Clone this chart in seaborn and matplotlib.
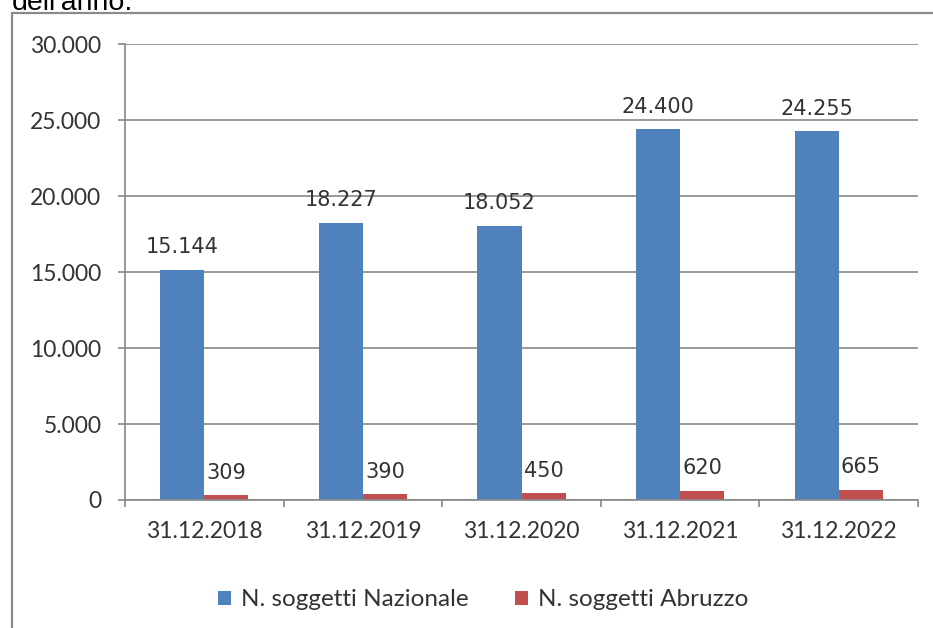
import matplotlib
matplotlib.use("Agg")
import matplotlib.pyplot as plt
from matplotlib.patches import Rectangle
from matplotlib.ticker import FuncFormatter, FixedLocator
import pandas as pd
import seaborn as sns

# data
categories = ["31.12.2018", "31.12.2019", "31.12.2020", "31.12.2021", "31.12.2022"]
nazionale = [15144, 18227, 18052, 24400, 24255]
abruzzo = [309, 390, 450, 620, 665]
series_names = ["N. soggetti Nazionale", "N. soggetti Abruzzo"]
y_ticks = [0, 5000, 10000, 15000, 20000, 25000, 30000]

BLUE = "#4F81BD"
RED = "#C0504D"
GRID = "#888888"
TEXT = "#333333"


def it_num(v, _pos=None):
    return f"{v:,.0f}".replace(",", ".")


df = pd.DataFrame({"data": categories, series_names[0]: nazionale, series_names[1]: abruzzo})
tidy = df.melt(id_vars="data", var_name="serie", value_name="valore")

sns.set_style("white")
plt.rcParams["font.family"] = ["Lato", "DejaVu Sans"]

fig = plt.figure(figsize=(9.33, 6.28), dpi=100)
ax = fig.add_axes([125 / 933, 1 - 500 / 628, (918 - 125) / 933, (500 - 44) / 628])

sns.barplot(data=tidy, x="data", y="valore", hue="serie", hue_order=series_names,
            palette={series_names[0]: BLUE, series_names[1]: RED}, saturation=1,
            width=0.555, errorbar=None, linewidth=0, ax=ax)

ax.set_xlim(-0.5, len(categories) - 0.5)
ax.set_ylim(0, 30000)
ax.set_xlabel("")
ax.set_ylabel("")

# grid + axes
ax.yaxis.set_major_locator(FixedLocator(y_ticks))
ax.yaxis.set_major_formatter(FuncFormatter(it_num))
ax.grid(axis="y", color=GRID, linewidth=1.2)
ax.set_axisbelow(True)
for side in ["top", "right"]:
    ax.spines[side].set_visible(False)
for side in ["left", "bottom"]:
    ax.spines[side].set_color(GRID)
    ax.spines[side].set_linewidth(1.2)

ax.tick_params(axis="y", length=5, width=1.2, color=GRID, pad=12,
               labelsize=16.5, labelcolor=TEXT, left=True)
ax.set_xticks(range(len(categories)))
ax.set_xticklabels(categories)
ax.xaxis.set_minor_locator(FixedLocator([i - 0.5 for i in range(len(categories) + 1)]))
ax.tick_params(axis="x", which="major", length=0, pad=15, labelsize=16.5, labelcolor=TEXT)
ax.tick_params(axis="x", which="minor", length=5, width=1.2, color=GRID, bottom=True)

# value labels above bars
for cont, vals in zip(ax.containers, [nazionale, abruzzo]):
    ax.bar_label(cont, labels=[it_num(v) for v in vals], padding=9,
                 fontsize=15, color=TEXT, family=["DejaVu Sans"])

handles, labels = ax.get_legend_handles_labels()
if ax.get_legend() is not None:
    ax.get_legend().remove()
fig.legend(handles, labels, loc="center", bbox_to_anchor=(483 / 933, 1 - 600 / 628),
           ncol=2, frameon=False, fontsize=17.5, handlelength=0.55, handleheight=0.55,
           handletextpad=0.4, columnspacing=1.9, labelcolor=TEXT)

# outer frame and clipped caption above it (cut off in the reference too)
fig.patches.append(Rectangle((12 / 933, -0.05), 1.1, 1 - 13 / 628 + 0.05,
                             transform=fig.transFigure, fill=False,
                             edgecolor="#8a8a8a", linewidth=1.6))
fig.text(12 / 933, 1 - 10 / 628, "dell'anno.", va="baseline", ha="left",
         fontsize=20.5, family=["Liberation Sans"], color="black")

fig.savefig("out.png", dpi=100)
